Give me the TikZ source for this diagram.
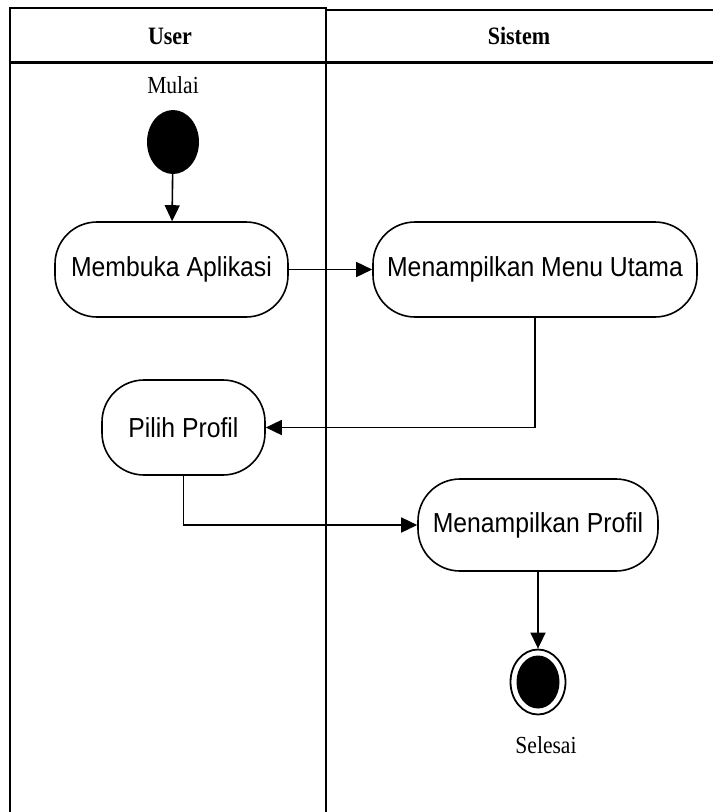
\documentclass[tikz,border=0pt]{standalone}
\usepackage{fontspec}
\setmainfont{Liberation Serif}[FakeStretch=0.88]
\newfontfamily\boxfont{Liberation Sans}[FakeStretch=0.9]
\usetikzlibrary{shapes.geometric, arrows.meta}

\tikzset{
  lane/.style = {line width = 1.6pt},
  caption/.style = {font = \fontsize{24.5}{27}\selectfont},
  headtext/.style = {font = \fontsize{25}{28}\selectfont\bfseries},
  activity/.style = {draw, line width = 1.6pt, rectangle, rounded corners = 42pt,
    minimum height = 95pt, inner sep = 0pt,
    font = \boxfont\fontsize{27.5}{30}\selectfont},
  startdot/.style = {ellipse, fill = black, minimum width = 52pt,
    minimum height = 64pt, inner sep = 0pt},
  enddot/.style = {ellipse, draw, line width = 1.8pt, minimum width = 55pt,
    minimum height = 65pt, inner sep = 0pt},
  flow/.style = {line width = 1.6pt, -{Triangle[length = 16pt, width = 15pt]}}
}

\begin{document}
\begin{tikzpicture}[x = 1pt, y = -1pt]
  \useasboundingbox (0, 0) rectangle (713, 812);

  % swimlanes
  \draw[lane] (10, 812) -- (10, 8) -- (326, 8) -- (326, 812);
  \draw[lane] (326, 10) -- (713, 10);
  \draw[line width = 3pt] (10, 62) -- (713, 62);
  \node[headtext] (user) at (170, 36) {User};
  \node[headtext] (sistem) at (519, 36) {Sistem};

  % nodes
  \node[caption] (mulai) at (173, 85) {Mulai};
  \node[startdot] (start) at (173, 142) {};
  \node[activity, minimum width = 233pt] (buka) at (171.5, 269.5)
    {Membuka Aplikasi};
  \node[activity, minimum width = 324pt] (menu) at (535, 269.5)
    {Menampilkan Menu Utama};
  \node[activity, minimum width = 163pt] (pilih) at (183.5, 427.5)
    {Pilih Profil};
  \node[activity, minimum width = 240pt, minimum height = 92pt] (profil)
    at (538, 525) {Menampilkan Profil};
  \node[enddot] (finish) at (538, 682) {};
  \node[ellipse, fill = black, minimum width = 43pt, minimum height = 53pt,
    inner sep = 0pt] (finishdot) at (finish) {};
  \node[caption] (selesai) at (546, 745) {Selesai};

  % flows
  \draw[flow] (start) -- (buka);
  \draw[flow] (buka) -- (menu);
  \draw[flow] (menu.south) |- (pilih.east);
  \draw[flow] (pilih.south) |- (profil.west);
  \draw[flow] (profil) -- (finish);

\end{tikzpicture}
\end{document}
